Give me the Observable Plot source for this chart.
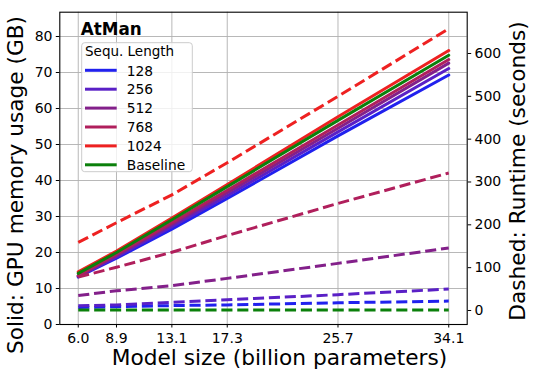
<!DOCTYPE html>
<html>
<head>
<meta charset="utf-8">
<script src="https://cdn.jsdelivr.net/npm/d3@7"></script>
<script src="https://cdn.jsdelivr.net/npm/@observablehq/plot@0.6"></script>
<style>
  html, body { margin: 0; padding: 0; background: white; }
  #chart { width: 540px; height: 383px; }
</style>
</head>
<body>
<div id="chart"></div>
<script>
// ---- Data ----
const sizes = [6.0, 8.9, 13.1, 17.3, 25.7, 34.1];
const seriesNames = ["128", "256", "512", "768", "1024", "Baseline"];
const seriesColors = ["#2121ee", "#5a20c6", "#83208a", "#b01f5c", "#ee2121", "#0b800b"];

// GPU memory usage (GB) — solid lines
const mem128  = [13.2, 18.4, 26.5, 35.0, 52.4, 69.3];
const mem256  = [13.3, 18.8, 27.2, 35.8, 53.5, 71.1];
const mem512  = [13.5, 19.2, 27.8, 36.6, 54.5, 72.6];
const mem768  = [13.6, 19.5, 28.3, 37.3, 55.4, 73.6];
const mem1024 = [14.6, 20.4, 29.6, 38.9, 57.7, 76.1];
const memBase = [14.2, 20.0, 29.1, 38.3, 56.7, 74.8];

// Runtime (seconds) — dashed lines
const rt128  = [7, 9, 11.5, 13, 18, 22];
const rt256  = [11, 13, 19, 25, 37, 50];
const rt512  = [35, 46, 58, 75, 110, 146];
const rt768  = [78, 101, 136, 175, 250, 321];
const rt1024 = [159, 205, 270, 345, 500, 658];
const rtBase = [1, 1, 1, 1, 1, 1];

const memTicks = [0, 10, 20, 30, 40, 50, 60, 70, 80];
const rtTicks = [0, 100, 200, 300, 400, 500, 600];

const memDomain = [0, 86.75];
const rtDomain = [-32.7, 696.4];
const sizeDomain = [4.6, 35.5];

// ---- Build table ----
const memSeries = [mem128, mem256, mem512, mem768, mem1024, memBase];
const rtSeries = [rt128, rt256, rt512, rt768, rt1024, rtBase];
const rows = [];
seriesNames.forEach((s, i) => {
  sizes.forEach((x, j) => rows.push({series: s, size: x, mem: memSeries[i][j], rt: rtSeries[i][j]}));
});
// map runtime onto the memory (left) scale for the twin axis
const conv = s => (s - rtDomain[0]) / (rtDomain[1] - rtDomain[0]) * (memDomain[1] - memDomain[0]) + memDomain[0];

const solidMarks = seriesNames.map((s, i) =>
  Plot.line(rows.filter(r => r.series === s), {x: "size", y: "mem", stroke: seriesColors[i], strokeWidth: 3})
);
const dashedMarks = seriesNames.map((s, i) =>
  Plot.line(rows.filter(r => r.series === s), {x: "size", y: r => conv(r.rt), stroke: seriesColors[i], strokeWidth: 3, strokeDasharray: "11.1,4.8", strokeLinecap: "butt"})
);

const W = 540, H = 383;
const mL = 59.3, mR = 73.3, mT = 11.7, mB = 59;

const chart = Plot.plot({
  width: W, height: H,
  marginLeft: mL, marginRight: mR, marginTop: mT, marginBottom: mB,
  style: {fontFamily: "DejaVu Sans", fontSize: "14px", background: "white", color: "black", overflow: "visible"},
  x: {domain: sizeDomain},
  y: {domain: memDomain},
  marks: [
    Plot.gridX(sizes, {stroke: "#b0b0b0", strokeOpacity: 1, strokeWidth: 0.9}),
    Plot.gridY(memTicks, {stroke: "#b0b0b0", strokeOpacity: 1, strokeWidth: 0.9}),
    ...solidMarks,
    ...dashedMarks,
    Plot.frame({stroke: "black", strokeWidth: 1.1}),
    Plot.axisX(sizes, {tickFormat: d => d.toFixed(1), tickSize: 3.5, tickPadding: 5.5, label: null, fontSize: 14}),
    Plot.axisY(memTicks, {tickSize: 3.5, tickPadding: 3.8, label: null, fontSize: 14}),
    Plot.axisY(rtTicks, {anchor: "right", y: d => conv(d), text: d => String(d), tickSize: 3.5, tickPadding: 3.8, label: null, fontSize: 14})
  ]
});
document.getElementById("chart").appendChild(chart);

// ---- Labels, title and legend ----
const svg = d3.select(chart);
const lab = svg.append("g").attr("font-family", "DejaVu Sans").attr("fill", "black");
lab.append("text").attr("x", 279.5).attr("y", 365).attr("text-anchor", "middle")
  .attr("font-size", 21.7).text("Model size (billion parameters)");
lab.append("text").attr("transform", "translate(22.5,185) rotate(-90)").attr("text-anchor", "middle")
  .attr("font-size", 21.7).text("Solid: GPU memory usage (GB)");
lab.append("text").attr("transform", "translate(525,171) rotate(-90)").attr("text-anchor", "middle")
  .attr("font-size", 21.7).text("Dashed: Runtime (seconds)");
lab.append("text").attr("x", 80.7).attr("y", 35).attr("text-anchor", "start")
  .attr("font-size", 16.8).attr("font-weight", "bold").text("AtMan");

const leg = svg.append("g").attr("font-family", "DejaVu Sans").attr("text-anchor", "start");
leg.append("rect").attr("x", 81.7).attr("y", 42.7).attr("width", 110.6).attr("height", 129)
  .attr("rx", 3).attr("fill", "white").attr("fill-opacity", 0.8).attr("stroke", "#cccccc").attr("stroke-width", 1);
leg.append("text").attr("x", 85).attr("y", 56).attr("font-size", 13.5).text("Sequ. Length");
seriesNames.forEach((s, i) => {
  const y = 70.3 + 18.9 * i;
  leg.append("line").attr("x1", 85).attr("x2", 116.7).attr("y1", y).attr("y2", y)
    .attr("stroke", seriesColors[i]).attr("stroke-width", 3);
  leg.append("text").attr("x", 126.7).attr("y", y + 5.2).attr("font-size", 13.8).text(s);
});
</script>
</body>
</html>
